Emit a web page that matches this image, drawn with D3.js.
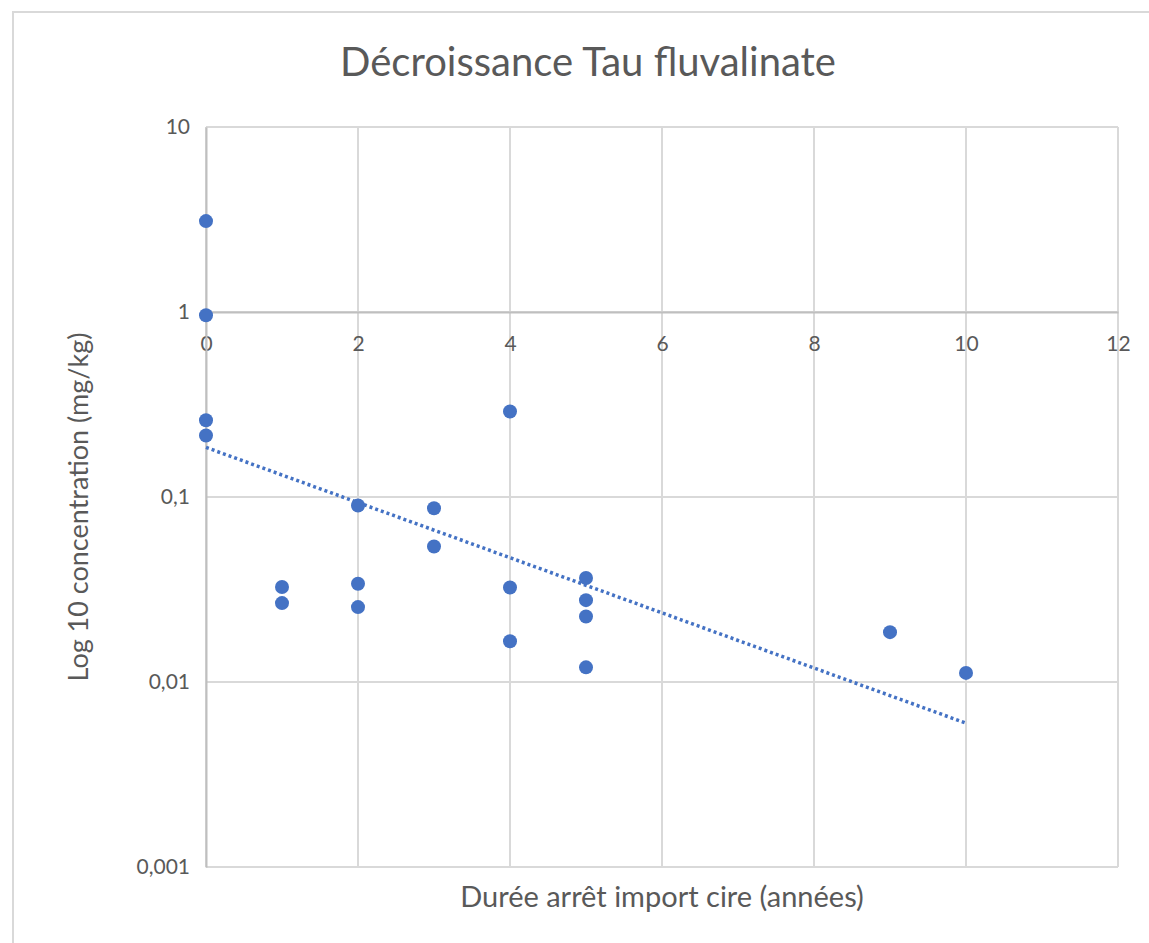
<!DOCTYPE html>
<html>
<head>
<meta charset="utf-8">
<script src="https://cdn.jsdelivr.net/npm/d3@7"></script>
<style>
  body { margin: 0; background: #fff; }
  text { font-family: Lato, "Open Sans", sans-serif; fill: #595959; }
</style>
</head>
<body>
<div id="chart"></div>
<script>
// data: years since wax import stopped, concentration (mg/kg)
var years = [0, 0, 0, 0, 1, 1, 2, 2, 2, 3, 3, 4, 4, 4, 5, 5, 5, 5, 9, 10];
var concentration = [3.1, 0.96, 0.26, 0.215, 0.0326, 0.0267, 0.09, 0.034, 0.0254,
    0.087, 0.054, 0.29, 0.0324, 0.0166, 0.0365, 0.0277, 0.0226, 0.012, 0.0186, 0.0112];
var xTicks = [0, 2, 4, 6, 8, 10, 12];
var yTicks = [10, 1, 0.1, 0.01, 0.001];
var yTickLabels = ["10", "1", "0,1", "0,01", "0,001"];

var W = 1149, H = 943;
var margin = { top: 127, right: 31, bottom: 76, left: 206 };
var width = W - margin.left - margin.right,
    height = H - margin.top - margin.bottom;

var svg = d3.select("#chart").append("svg")
    .attr("width", W)
    .attr("height", H);

// chart area border (runs off the right / bottom edge in the screenshot)
svg.append("rect")
    .attr("x", 13).attr("y", 12)
    .attr("width", W + 20).attr("height", H + 20)
    .attr("fill", "none")
    .attr("stroke", "#d9d9d9")
    .attr("stroke-width", 2);

svg.append("text")
    .attr("x", 588).attr("y", 76)
    .attr("text-anchor", "middle")
    .style("font-size", "40px")
    .text("Décroissance Tau fluvalinate");

var g = svg.append("g")
    .attr("transform", "translate(" + margin.left + "," + margin.top + ")");

var x = d3.scaleLinear().domain([0, 12]).range([0, width]);
var y = d3.scaleLog().domain([0.001, 10]).range([height, 0]);

// gridlines
g.selectAll(".vgrid")
    .data(xTicks)
    .enter().append("line")
    .attr("x1", d => x(d)).attr("x2", d => x(d))
    .attr("y1", 0).attr("y2", height)
    .attr("stroke", "#d9d9d9")
    .attr("stroke-width", 2);

g.selectAll(".hgrid")
    .data(yTicks)
    .enter().append("line")
    .attr("x1", 0).attr("x2", width)
    .attr("y1", d => y(d)).attr("y2", d => y(d))
    .attr("stroke", "#d9d9d9")
    .attr("stroke-width", 2);

// x axis crosses at y = 1
var xAxis = d3.axisBottom(x).tickValues(xTicks).tickSize(0).tickPadding(24);
var xg = g.append("g")
    .attr("transform", "translate(0," + y(1) + ")")
    .call(xAxis);
xg.select(".domain").attr("stroke", "#bfbfbf").attr("stroke-width", 2);
xg.selectAll("text").style("font-size", "21px").style("fill", "#595959")
    .attr("font-family", null);

var yAxis = d3.axisLeft(y).tickValues(yTicks).tickSize(0).tickPadding(16)
    .tickFormat((d, i) => yTickLabels[i]);
var yg = g.append("g").call(yAxis);
yg.select(".domain").attr("stroke", "#bfbfbf").attr("stroke-width", 2);
yg.selectAll("text").style("font-size", "21px").style("fill", "#595959")
    .attr("font-family", null);

// exponential trendline fitted on log10 values
var ly = concentration.map(v => Math.log10(v));
var mx = d3.mean(years), my = d3.mean(ly);
var sxy = d3.sum(years, (v, i) => (v - mx) * (ly[i] - my));
var sxx = d3.sum(years, v => (v - mx) * (v - mx));
var slope = sxy / sxx, intercept = my - slope * mx;
var xExt = d3.extent(years);

g.append("path")
    .datum(xExt)
    .attr("d", d3.line()
        .x(d => x(d))
        .y(d => y(Math.pow(10, intercept + slope * d))))
    .attr("fill", "none")
    .attr("stroke", "#4472c4")
    .attr("stroke-width", 3.5)
    .attr("stroke-dasharray", "3 3");

g.selectAll(".dot")
    .data(years)
    .enter().append("circle")
    .attr("cx", d => x(d))
    .attr("cy", (d, i) => y(concentration[i]))
    .attr("r", 7)
    .attr("fill", "#4472c4");

// axis titles
svg.append("text")
    .attr("x", 662).attr("y", 907)
    .attr("text-anchor", "middle")
    .style("font-size", "29px")
    .text("Durée arrêt import cire (années)");

svg.append("text")
    .attr("transform", "translate(88,507) rotate(-90)")
    .attr("text-anchor", "middle")
    .style("font-size", "27px")
    .text("Log 10 concentration (mg/kg)");
</script>
</body>
</html>
